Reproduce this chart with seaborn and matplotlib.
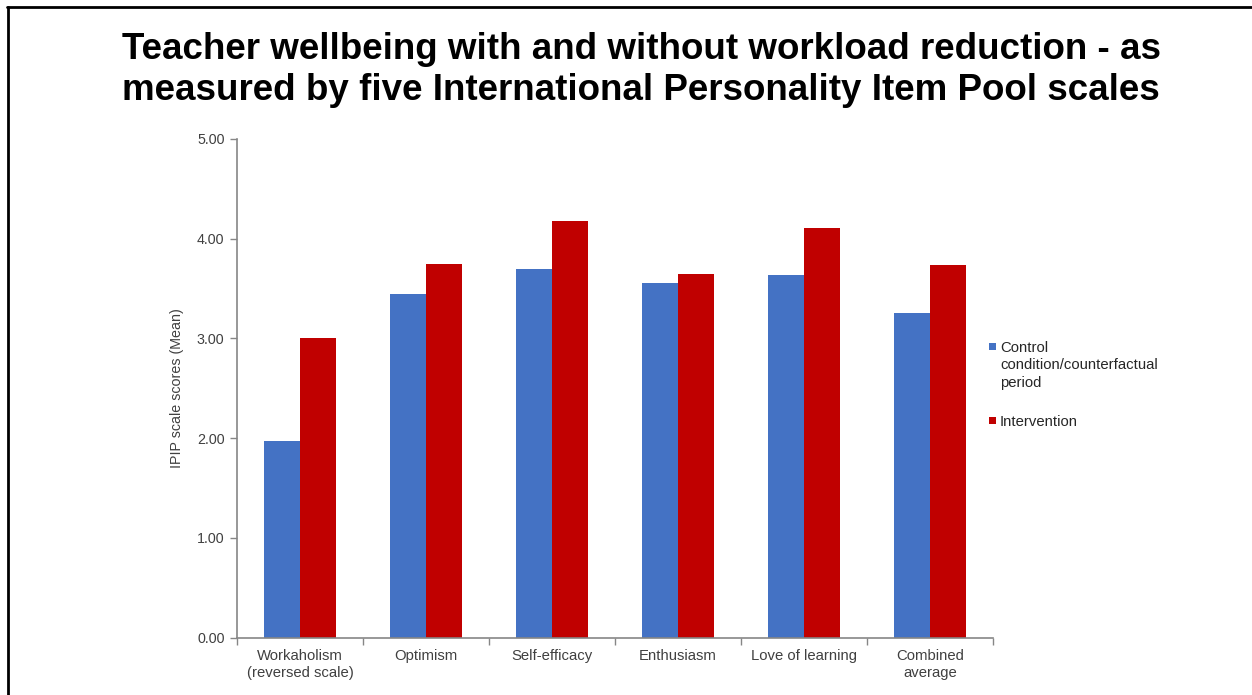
import numpy as np
import pandas as pd
import matplotlib
matplotlib.use('Agg')
import matplotlib.pyplot as plt
from matplotlib.patches import Rectangle
from matplotlib.lines import Line2D
import seaborn as sns

# ─── data ────────────────────────────────────────────────────────────────────
scales = ['Workaholism\n(reversed scale)', 'Optimism', 'Self-efficacy',
          'Enthusiasm', 'Love of learning', 'Combined\naverage']
control      = [1.97, 3.45, 3.70, 3.56, 3.64, 3.26]
intervention = [3.00, 3.75, 4.18, 3.65, 4.11, 3.74]
groups = ['Control\ncondition/counterfactual\nperiod', 'Intervention']
yticks = [0, 1, 2, 3, 4, 5]

df = pd.DataFrame({
    'scale': scales * 2,
    'score': control + intervention,
    'group': [groups[0]] * len(scales) + [groups[1]] * len(scales),
})

# ─── style ───────────────────────────────────────────────────────────────────
sns.set_theme(style='white')
plt.rcParams['font.family'] = ['Liberation Sans', 'DejaVu Sans']
BLUE, RED = '#4472C4', '#C00000'
GREY_TXT = '#404040'
AXIS_CLR = '#868686'
W, H = 1252, 695

fig = plt.figure(figsize=(W / 100, H / 100), dpi=100)
ax = fig.add_axes([237 / W, 1 - 637.7 / H, 756 / W, 498.7 / H])

sns.barplot(data=df, x='scale', y='score', hue='group', order=scales,
            hue_order=groups, palette=[BLUE, RED], width=0.57, gap=0,
            saturation=1, linewidth=0, edgecolor='none', ax=ax, legend=False)

ax.set_ylim(0, 5)
ax.set_xlim(-0.5, len(scales) - 0.5)
ax.set_yticks(yticks)
ax.set_yticklabels([f'{v:.2f}' for v in yticks], fontsize=10.3, color=GREY_TXT)
ax.set_xticks(np.arange(len(scales) + 1) - 0.5)
ax.set_xticklabels([])
ax.set_xticks(np.arange(len(scales)), minor=True)
ax.set_xticklabels(scales, minor=True, fontsize=10.7, color=GREY_TXT,
                   linespacing=1.25)
ax.tick_params(axis='x', which='major', direction='out', length=5,
               width=1, color=AXIS_CLR, bottom=True)
ax.tick_params(axis='x', which='minor', length=0, pad=8)
ax.tick_params(axis='y', direction='out', length=5, width=1,
               color=AXIS_CLR, left=True, pad=4)
ax.set_xlabel('')
ax.set_ylabel('IPIP scale scores (Mean)', fontsize=10.3, color=GREY_TXT,
              labelpad=9)
for side in ['top', 'right']:
    ax.spines[side].set_visible(False)
for side in ['left', 'bottom']:
    ax.spines[side].set_color(AXIS_CLR)
    ax.spines[side].set_linewidth(1.2)
ax.grid(False)

# legend (square key next to the first line of each label)
for label, color, y_px in zip(groups, [BLUE, RED], [346, 420]):
    fig.add_artist(Rectangle((989 / W, 1 - (y_px + 3.5) / H), 7 / W, 7 / H,
                             transform=fig.transFigure, facecolor=color,
                             edgecolor='none'))
    fig.text(1000 / W, 1 - (y_px - 5) / H, label, ha='left', va='top',
             fontsize=10.7, color='#262626', linespacing=1.3)

# title
fig.text(641 / W, 1 - 70 / H,
         'Teacher wellbeing with and without workload reduction - as\n'
         'measured by five International Personality Item Pool scales',
         ha='center', va='center', fontsize=26.5, fontweight='bold',
         color='black', linespacing=1.22)

# frame (top and left edges of the slide)
fig.add_artist(Line2D([7 / W, 1], [1 - 6.5 / H] * 2,
                      transform=fig.transFigure, color='black', lw=2))
fig.add_artist(Line2D([8 / W] * 2, [0, 1 - 6.5 / H],
                      transform=fig.transFigure, color='black', lw=2))

fig.savefig('out.png', dpi=100, facecolor='white')
